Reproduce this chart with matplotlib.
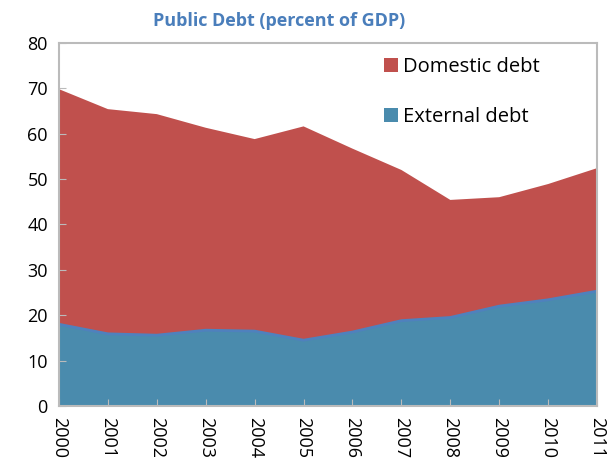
import numpy as np
import matplotlib.pyplot as plt

# Data
years = ["2000", "2001", "2002", "2003", "2004", "2005",
         "2006", "2007", "2008", "2009", "2010", "2011"]
external = [18.0, 15.9, 15.6, 16.7, 16.5, 14.5, 16.3, 18.8, 19.5, 22.0, 23.4, 25.3]
total = [69.8, 65.4, 64.3, 61.3, 58.8, 61.6, 56.7, 52.0, 45.4, 46.0, 48.9, 52.4]
domestic = [t - e for t, e in zip(total, external)]

plt.rcParams['font.family'] = ['Open Sans', 'DejaVu Sans']

fig = plt.figure(figsize=(6.08, 4.71), dpi=100)
ax = fig.add_axes([0.097, 0.138, 0.885, 0.771])

x = np.arange(len(years))
ax.stackplot(x, external, domestic,
             colors=["#4A8BAD", "#C0504D"],
             labels=["External debt", "Domestic debt"])
ax.plot(x, external, color="#4F81BD", lw=2)

ax.set_xlim(0, len(years) - 1)
ax.set_ylim(0, 80)
ax.set_yticks(range(0, 81, 10))
ax.set_xticks(x)
ax.set_xticklabels(years, rotation=-90, fontsize=13)
ax.tick_params(axis='y', labelsize=13, direction='in', length=5, color='#BBBBBB', pad=8)
ax.tick_params(axis='x', direction='in', length=5, color='#BBBBBB', pad=8)
for s in ax.spines.values():
    s.set_color('#BBBBBB')
    s.set_linewidth(1.5)

ax.set_title("Public Debt (percent of GDP)", color="#4A7EBB",
             fontweight='bold', fontsize=13, pad=12, x=0.41)

h, l = ax.get_legend_handles_labels()
ax.legend(h[::-1], l[::-1], loc='upper right', frameon=False, fontsize=14.5,
          labelspacing=1.5, handlelength=0.7, handleheight=0.7,
          handletextpad=0.25, borderaxespad=0.5, borderpad=0.2,
          bbox_to_anchor=(0.92, 1.0))

plt.savefig('out.png', dpi=100)
